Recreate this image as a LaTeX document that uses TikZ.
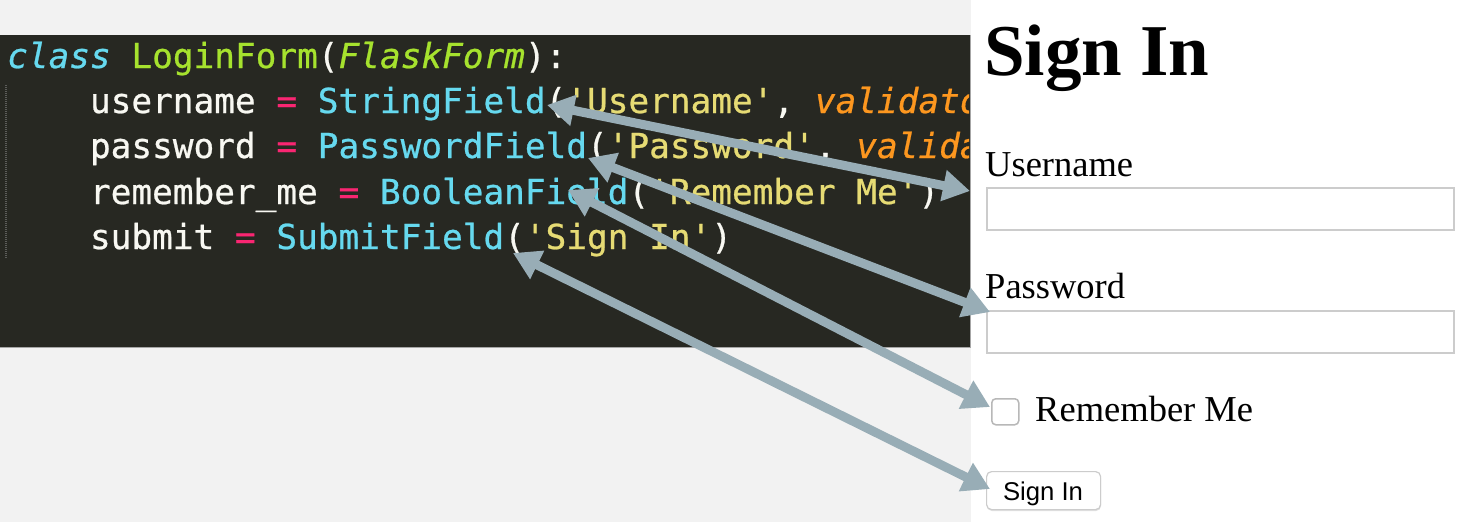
\documentclass[tikz,border=0pt]{standalone}
\usepackage{fontspec}
\setmainfont{Liberation Serif}
\setsansfont{Liberation Sans}
\setmonofont[FakeBold=0.7, ItalicFeatures={FakeBold=0.7}]{DejaVu Sans Mono}
\usetikzlibrary{arrows.meta}
\definecolor{pagebg}{HTML}{F2F2F2}
\definecolor{codebg}{HTML}{272822}
\definecolor{cwhite}{HTML}{F8F8F2}
\definecolor{cpink}{HTML}{F92672}
\definecolor{ccyan}{HTML}{66D9EF}
\definecolor{cgreen}{HTML}{A6E22E}
\definecolor{cyellow}{HTML}{E6DB74}
\definecolor{corange}{HTML}{FD971F}
\definecolor{arrowc}{HTML}{98ADB6}
\definecolor{boxc}{HTML}{CCCCCC}
\tikzset{
  codeline/.style={anchor=base west, inner sep=0pt, text=cwhite, font=\ttfamily\fontsize{34.4}{40}\selectfont},
  formlbl/.style={anchor=base west, inner sep=0pt, text=black, font=\fontsize{36.5}{40}\selectfont},
  inputbox/.style={draw=boxc, line width=1.5pt, fill=white, anchor=north west, inner sep=0pt, minimum width=467pt, minimum height=42pt},
  conn/.style={draw=arrowc, line width=9pt, {Triangle[length=27pt,width=30pt]}-{Triangle[length=27pt,width=30pt]}}
}
\begin{document}
\begin{tikzpicture}[x=1pt,y=-1pt]
\useasboundingbox (0,0) rectangle (1473,522);
% backgrounds
\fill[pagebg] (0,0) rectangle (971,522);
\fill[codebg] (0,35) rectangle (970,347);
\draw[gray!70, line width=1pt] (0,347) -- (970,347) -- (970,35);
\fill[white] (971,0) rectangle (1473,522);
% indent guide
\draw[gray!60!codebg, line width=1.2pt, dash pattern=on 1pt off 1pt] (6,85) -- (6,258);
% code
\begin{scope}
\clip (0,35) rectangle (969,347);
\node[codeline] (l1) at (7,68) {\textcolor{ccyan}{\itshape class} \textcolor{cgreen}{LoginForm}(\textcolor{cgreen}{\itshape FlaskForm}):};
\node[codeline] (l2) at (89.8,113) {username \textcolor{cpink}{=} \textcolor{ccyan}{StringField}(\textcolor{cyellow}{'Username'}, \textcolor{corange}{\itshape validators}=[DataRequired()])};
\node[codeline] (l3) at (89.8,158) {password \textcolor{cpink}{=} \textcolor{ccyan}{PasswordField}(\textcolor{cyellow}{'Password'}, \textcolor{corange}{\itshape validators}=[DataRequired()])};
\node[codeline] (l4) at (89.8,204) {remember\_me \textcolor{cpink}{=} \textcolor{ccyan}{BooleanField}(\textcolor{cyellow}{'Remember Me'})};
\node[codeline] (l5) at (89.8,249) {submit \textcolor{cpink}{=} \textcolor{ccyan}{SubmitField}(\textcolor{cyellow}{'Sign In'})};
\end{scope}
% form
\node[anchor=base west, inner sep=0pt, font=\bfseries\fontsize{73}{80}\selectfont] (title) at (984,75) {Sign In};
\node[formlbl] (ulbl) at (985,176) {Username};
\node[inputbox] (ubox) at (986,187) {};
\node[formlbl] (plbl) at (985,298) {Password};
\node[inputbox] (pbox) at (986,310) {};
\node[draw=boxc!90!black, line width=1.5pt, fill=white, rounded corners=4pt, anchor=north west, inner sep=0pt, minimum width=27pt, minimum height=26pt] (chk) at (991,398) {};
\node[formlbl] (rlbl) at (1035,421.5) {Remember Me};
\fill[black!12, rounded corners=5pt] (987,473) rectangle (1101,511);
\node[draw=boxc, line width=1.2pt, fill=white, rounded corners=5pt, anchor=north west, inner sep=0pt, minimum width=114pt, minimum height=38pt] (btn) at (986,471) {};
\node[anchor=base, inner sep=0pt, font=\sffamily\fontsize{25.7}{30}\selectfont] (btntxt) at (1043,500) {Sign In};
% connector end points
\coordinate (sf) at (547,105);
\coordinate (pf) at (588,158);
\coordinate (bf) at (568,190);
\coordinate (smf) at (513,253);
\coordinate (uin) at (970,191);
\coordinate (pin) at (990,312);
\coordinate (cin) at (990,407);
\coordinate (bin) at (990,489);
\draw[conn] (sf) -- (uin);
\draw[conn] (pf) -- (pin);
\draw[conn] (bf) -- (cin);
\draw[conn] (smf) -- (bin);
\end{tikzpicture}
\end{document}
